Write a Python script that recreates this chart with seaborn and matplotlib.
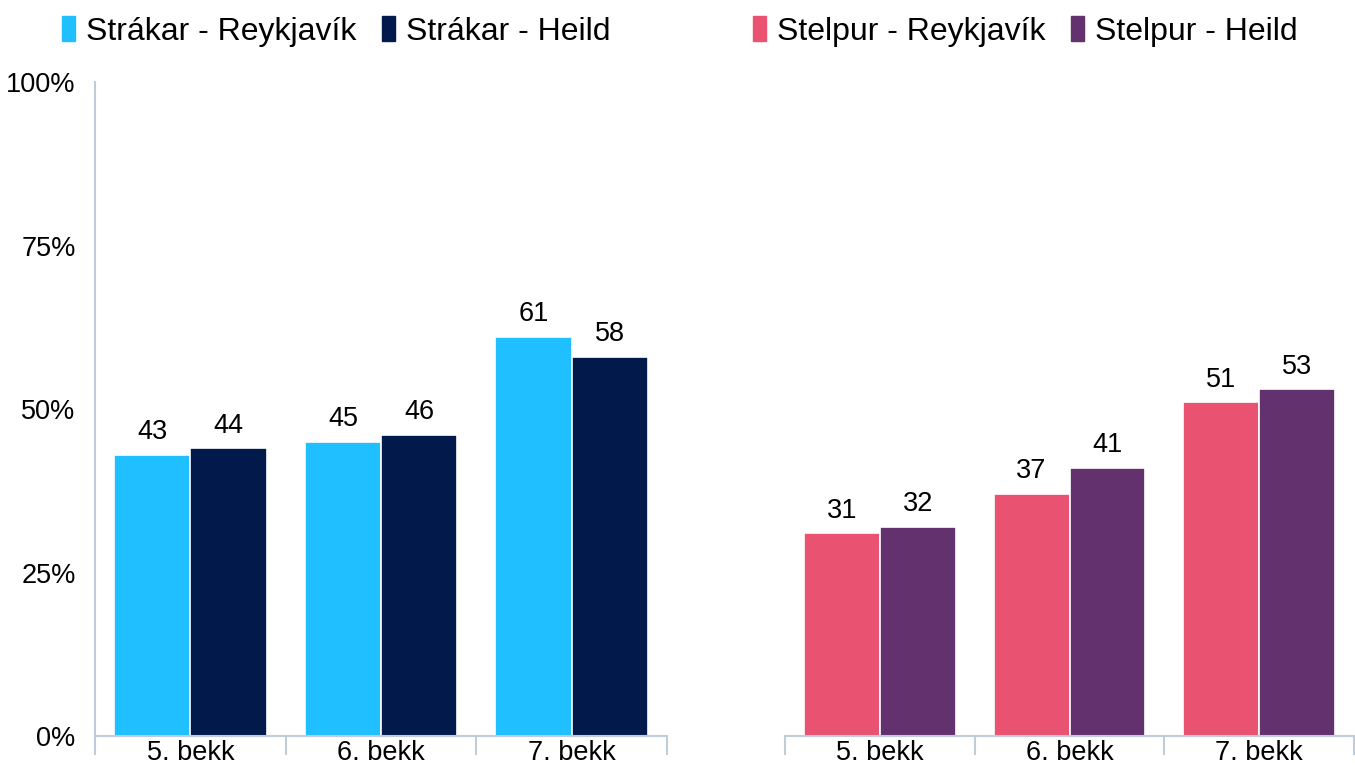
import matplotlib
matplotlib.use("Agg")
import matplotlib.pyplot as plt
import matplotlib.patches as mpatches
import seaborn as sns
import pandas as pd

bekkir = ["5. bekk", "6. bekk", "7. bekk"]

strakar_rvk = [43, 45, 61]
strakar_heild = [44, 46, 58]
stelpur_rvk = [31, 37, 51]
stelpur_heild = [32, 41, 53]

hopar_strakar = ["Strákar - Reykjavík", "Strákar - Heild"]
hopar_stelpur = ["Stelpur - Reykjavík", "Stelpur - Heild"]

litir_strakar = ["#20BFFF", "#021A4B"]
litir_stelpur = ["#EA5271", "#63316E"]

sns.set_style("white")
plt.rcParams["font.family"] = ["Liberation Sans", "DejaVu Sans"]
plt.rcParams["text.color"] = "black"
plt.rcParams["xtick.color"] = "black"
plt.rcParams["ytick.color"] = "black"

axis_col = "#BFCDDB"


def make_df(a, b, names):
    return pd.DataFrame({
        "bekkur": bekkir * 2,
        "hopur": [names[0]] * 3 + [names[1]] * 3,
        "gildi": a + b,
    })


fig = plt.figure(figsize=(13.55, 7.65), dpi=100)
ax1 = fig.add_axes([0.0701, 0.0379, 0.4222, 0.8549])
ax2 = fig.add_axes([0.5793, 0.0379, 0.4200, 0.8549])

for ax, df, names, cols in [
    (ax1, make_df(strakar_rvk, strakar_heild, hopar_strakar), hopar_strakar, litir_strakar),
    (ax2, make_df(stelpur_rvk, stelpur_heild, hopar_stelpur), hopar_stelpur, litir_stelpur),
]:
    sns.barplot(data=df, x="bekkur", y="gildi", hue="hopur", hue_order=names,
                palette=cols, width=0.8, edgecolor="white", linewidth=1.2,
                saturation=1, legend=False, ax=ax)
    for c in ax.containers:
        ax.bar_label(c, fmt="%d", padding=7, fontsize=19.5, color="black")
    ax.set_xlim(-0.5, 2.5)
    ax.set_ylim(0, 100)
    ax.set_xlabel("")
    ax.set_ylabel("")
    # skil milli flokka sem tick
    ax.set_xticks([-0.5, 0.5, 1.5, 2.5])
    ax.set_xticklabels([])
    ax.set_xticks([0, 1, 2], minor=True)
    ax.set_xticklabels(bekkir, minor=True, fontsize=19.5)
    ax.tick_params(axis="x", which="major", direction="out", length=14,
                   width=1.5, color=axis_col, bottom=True)
    ax.tick_params(axis="x", which="minor", length=0, pad=3)
    for s in ["top", "right"]:
        ax.spines[s].set_visible(False)
    ax.spines["bottom"].set_color(axis_col)
    ax.spines["bottom"].set_linewidth(1.5)
    fig.legend(handles=[mpatches.Patch(color=c, label=n) for n, c in zip(names, cols)],
               loc="center",
               bbox_to_anchor=(0.248 if ax is ax1 else 0.757, 0.959),
               ncol=2, frameon=False, fontsize=23, handlelength=0.4,
               handleheight=0.8, handletextpad=0.35, columnspacing=0.8)

ax1.set_yticks([0, 25, 50, 75, 100])
ax1.set_yticklabels(["0%", "25%", "50%", "75%", "100%"], fontsize=19.5)
ax1.tick_params(axis="y", length=0, pad=14)
ax1.spines["left"].set_color(axis_col)
ax1.spines["left"].set_linewidth(1.5)

ax2.set_yticks([])
ax2.spines["left"].set_visible(False)

fig.savefig("out.png", dpi=100)
